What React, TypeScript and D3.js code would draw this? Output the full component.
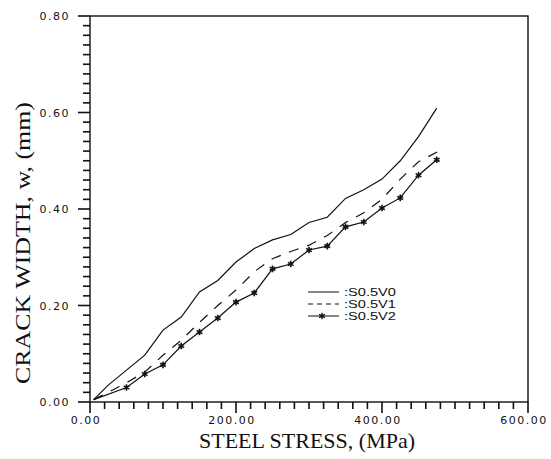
import React, { useEffect, useRef } from "react";
import * as d3 from "d3";

// stress (MPa) / crack width (mm) for each series
const stressV0 = [5, 25, 50, 75, 100, 125, 150, 175, 200, 225, 250, 275, 300, 325, 350, 375, 400, 425, 450, 475];
const widthV0 = [0.005, 0.035, 0.066, 0.097, 0.149, 0.176, 0.228, 0.252, 0.29, 0.318, 0.336, 0.347, 0.372, 0.383, 0.422, 0.44, 0.462, 0.5, 0.55, 0.609];

const stressV1 = [5, 25, 50, 75, 100, 125, 150, 175, 200, 225, 250, 275, 300, 325, 350, 375, 400, 425, 450, 478];
const widthV1 = [0.005, 0.02, 0.04, 0.062, 0.097, 0.128, 0.165, 0.2, 0.232, 0.27, 0.297, 0.312, 0.325, 0.345, 0.372, 0.392, 0.42, 0.462, 0.498, 0.52];

const stressV2 = [5, 50, 75, 100, 125, 150, 175, 200, 225, 250, 275, 300, 325, 350, 375, 400, 425, 450, 475];
const widthV2 = [0.005, 0.03, 0.058, 0.077, 0.116, 0.145, 0.174, 0.207, 0.226, 0.276, 0.286, 0.315, 0.323, 0.363, 0.373, 0.402, 0.423, 0.47, 0.502];

const xTicks = [0, 200, 400, 600];
const yTicks = [0, 0.2, 0.4, 0.6, 0.8];
const legendNames = [":S0.5V0", ":S0.5V1", ":S0.5V2"];

export default function App() {
  const svgRef = useRef<SVGSVGElement>(null);

  useEffect(() => {
    const svg = d3.select(svgRef.current);
    svg.selectAll("*").remove();

    const left = 90, right = 528, top = 16, bottom = 402;
    const x = d3.scaleLinear().domain([0, 600]).range([left, right]);
    const y = d3.scaleLinear().domain([0, 0.8]).range([bottom, top]);
    const ink = "#111";

    // x ticks (minor every 20, major every 200)
    svg.append("g").selectAll("rect")
      .data(d3.range(0, 601, 20))
      .join("rect")
      .attr("x", (d) => x(d) - 0.8).attr("y", bottom)
      .attr("width", 1.6).attr("height", (d) => (d % 200 === 0 ? 11 : 7))
      .attr("fill", ink);

    svg.append("g").selectAll("text")
      .data(xTicks)
      .join("text")
      .attr("x", (d) => x(d) - 4).attr("y", 424)
      .attr("text-anchor", "middle")
      .attr("font-family", "DejaVu Sans").attr("font-size", 11).attr("letter-spacing", 1.5)
      .attr("fill", ink)
      .text((d) => d.toFixed(2));

    // y ticks (minor every 0.02, major every 0.2)
    svg.append("g").selectAll("rect")
      .data(d3.range(0, 41))
      .join("rect")
      .attr("x", (i) => left - (i % 10 === 0 ? 12 : 7))
      .attr("y", (i) => y(i * 0.02) - 0.8)
      .attr("width", (i) => (i % 10 === 0 ? 12 : 7)).attr("height", 1.6)
      .attr("fill", ink);

    svg.append("g").selectAll("text")
      .data(yTicks)
      .join("text")
      .attr("x", 70).attr("y", (d) => y(d) + 4)
      .attr("text-anchor", "end")
      .attr("font-family", "DejaVu Sans").attr("font-size", 11).attr("letter-spacing", 1.5)
      .attr("fill", ink)
      .text((d) => d.toFixed(2));

    // frame
    svg.append("rect")
      .attr("x", left).attr("y", top)
      .attr("width", right - left).attr("height", bottom - top)
      .attr("fill", "none").attr("stroke", ink).attr("stroke-width", 1.4);

    // axis titles
    svg.append("text")
      .attr("x", 307).attr("y", 448).attr("text-anchor", "middle")
      .attr("font-family", "Liberation Serif").attr("font-size", 22)
      .attr("textLength", 216).attr("lengthAdjust", "spacingAndGlyphs")
      .attr("fill", ink).text("STEEL STRESS, (MPa)");
    svg.append("text")
      .attr("transform", "translate(30,243) rotate(-90)").attr("text-anchor", "middle")
      .attr("font-family", "Liberation Serif").attr("font-size", 22)
      .attr("textLength", 282).attr("lengthAdjust", "spacingAndGlyphs")
      .attr("fill", ink).text("CRACK WIDTH, w, (mm)");

    const line = d3.line<[number, number]>().x((d) => x(d[0])).y((d) => y(d[1]));
    const zip = (a: number[], b: number[]) => a.map((v, i) => [v, b[i]] as [number, number]);

    const series = [
      { pts: zip(stressV0, widthV0), dash: null as string | null, marks: false },
      { pts: zip(stressV1, widthV1), dash: "10,9", marks: false },
      { pts: zip(stressV2, widthV2), dash: null, marks: true },
    ];

    const star = d3.symbol().type(d3.symbolAsterisk).size(30);

    series.forEach((s) => {
      svg.append("path")
        .datum(s.pts)
        .attr("fill", "none").attr("stroke", ink).attr("stroke-width", 1.2)
        .attr("stroke-dasharray", s.dash)
        .attr("d", line);
      if (s.marks) {
        svg.append("g").selectAll("path")
          .data(s.pts.slice(1))
          .join("path")
          .attr("transform", (d) => `translate(${x(d[0])},${y(d[1])})`)
          .attr("d", star)
          .attr("stroke", ink).attr("stroke-width", 1.6).attr("fill", ink);
      }
    });

    // legend
    const lg = svg.append("g");
    legendNames.forEach((name, i) => {
      const ly = 292 + i * 12;
      lg.append("line")
        .attr("x1", 308).attr("x2", 339).attr("y1", ly).attr("y2", ly)
        .attr("stroke", ink).attr("stroke-width", 1)
        .attr("stroke-dasharray", i === 1 ? "5,4" : null);
      if (i === 2) {
        lg.append("path").attr("transform", `translate(322,${ly})`).attr("d", star)
          .attr("stroke", ink).attr("stroke-width", 1.4).attr("fill", ink);
      }
      lg.append("text")
        .attr("x", 344).attr("y", ly + 4)
        .attr("font-family", "Liberation Sans").attr("font-size", 10.5)
        .attr("textLength", 52).attr("lengthAdjust", "spacingAndGlyphs")
        .attr("fill", ink).text(name);
    });
  }, []);

  return (
    <svg
      ref={svgRef}
      width={551}
      height={459}
      style={{ position: "absolute", left: 0, top: 0, background: "white" }}
    />
  );
}
